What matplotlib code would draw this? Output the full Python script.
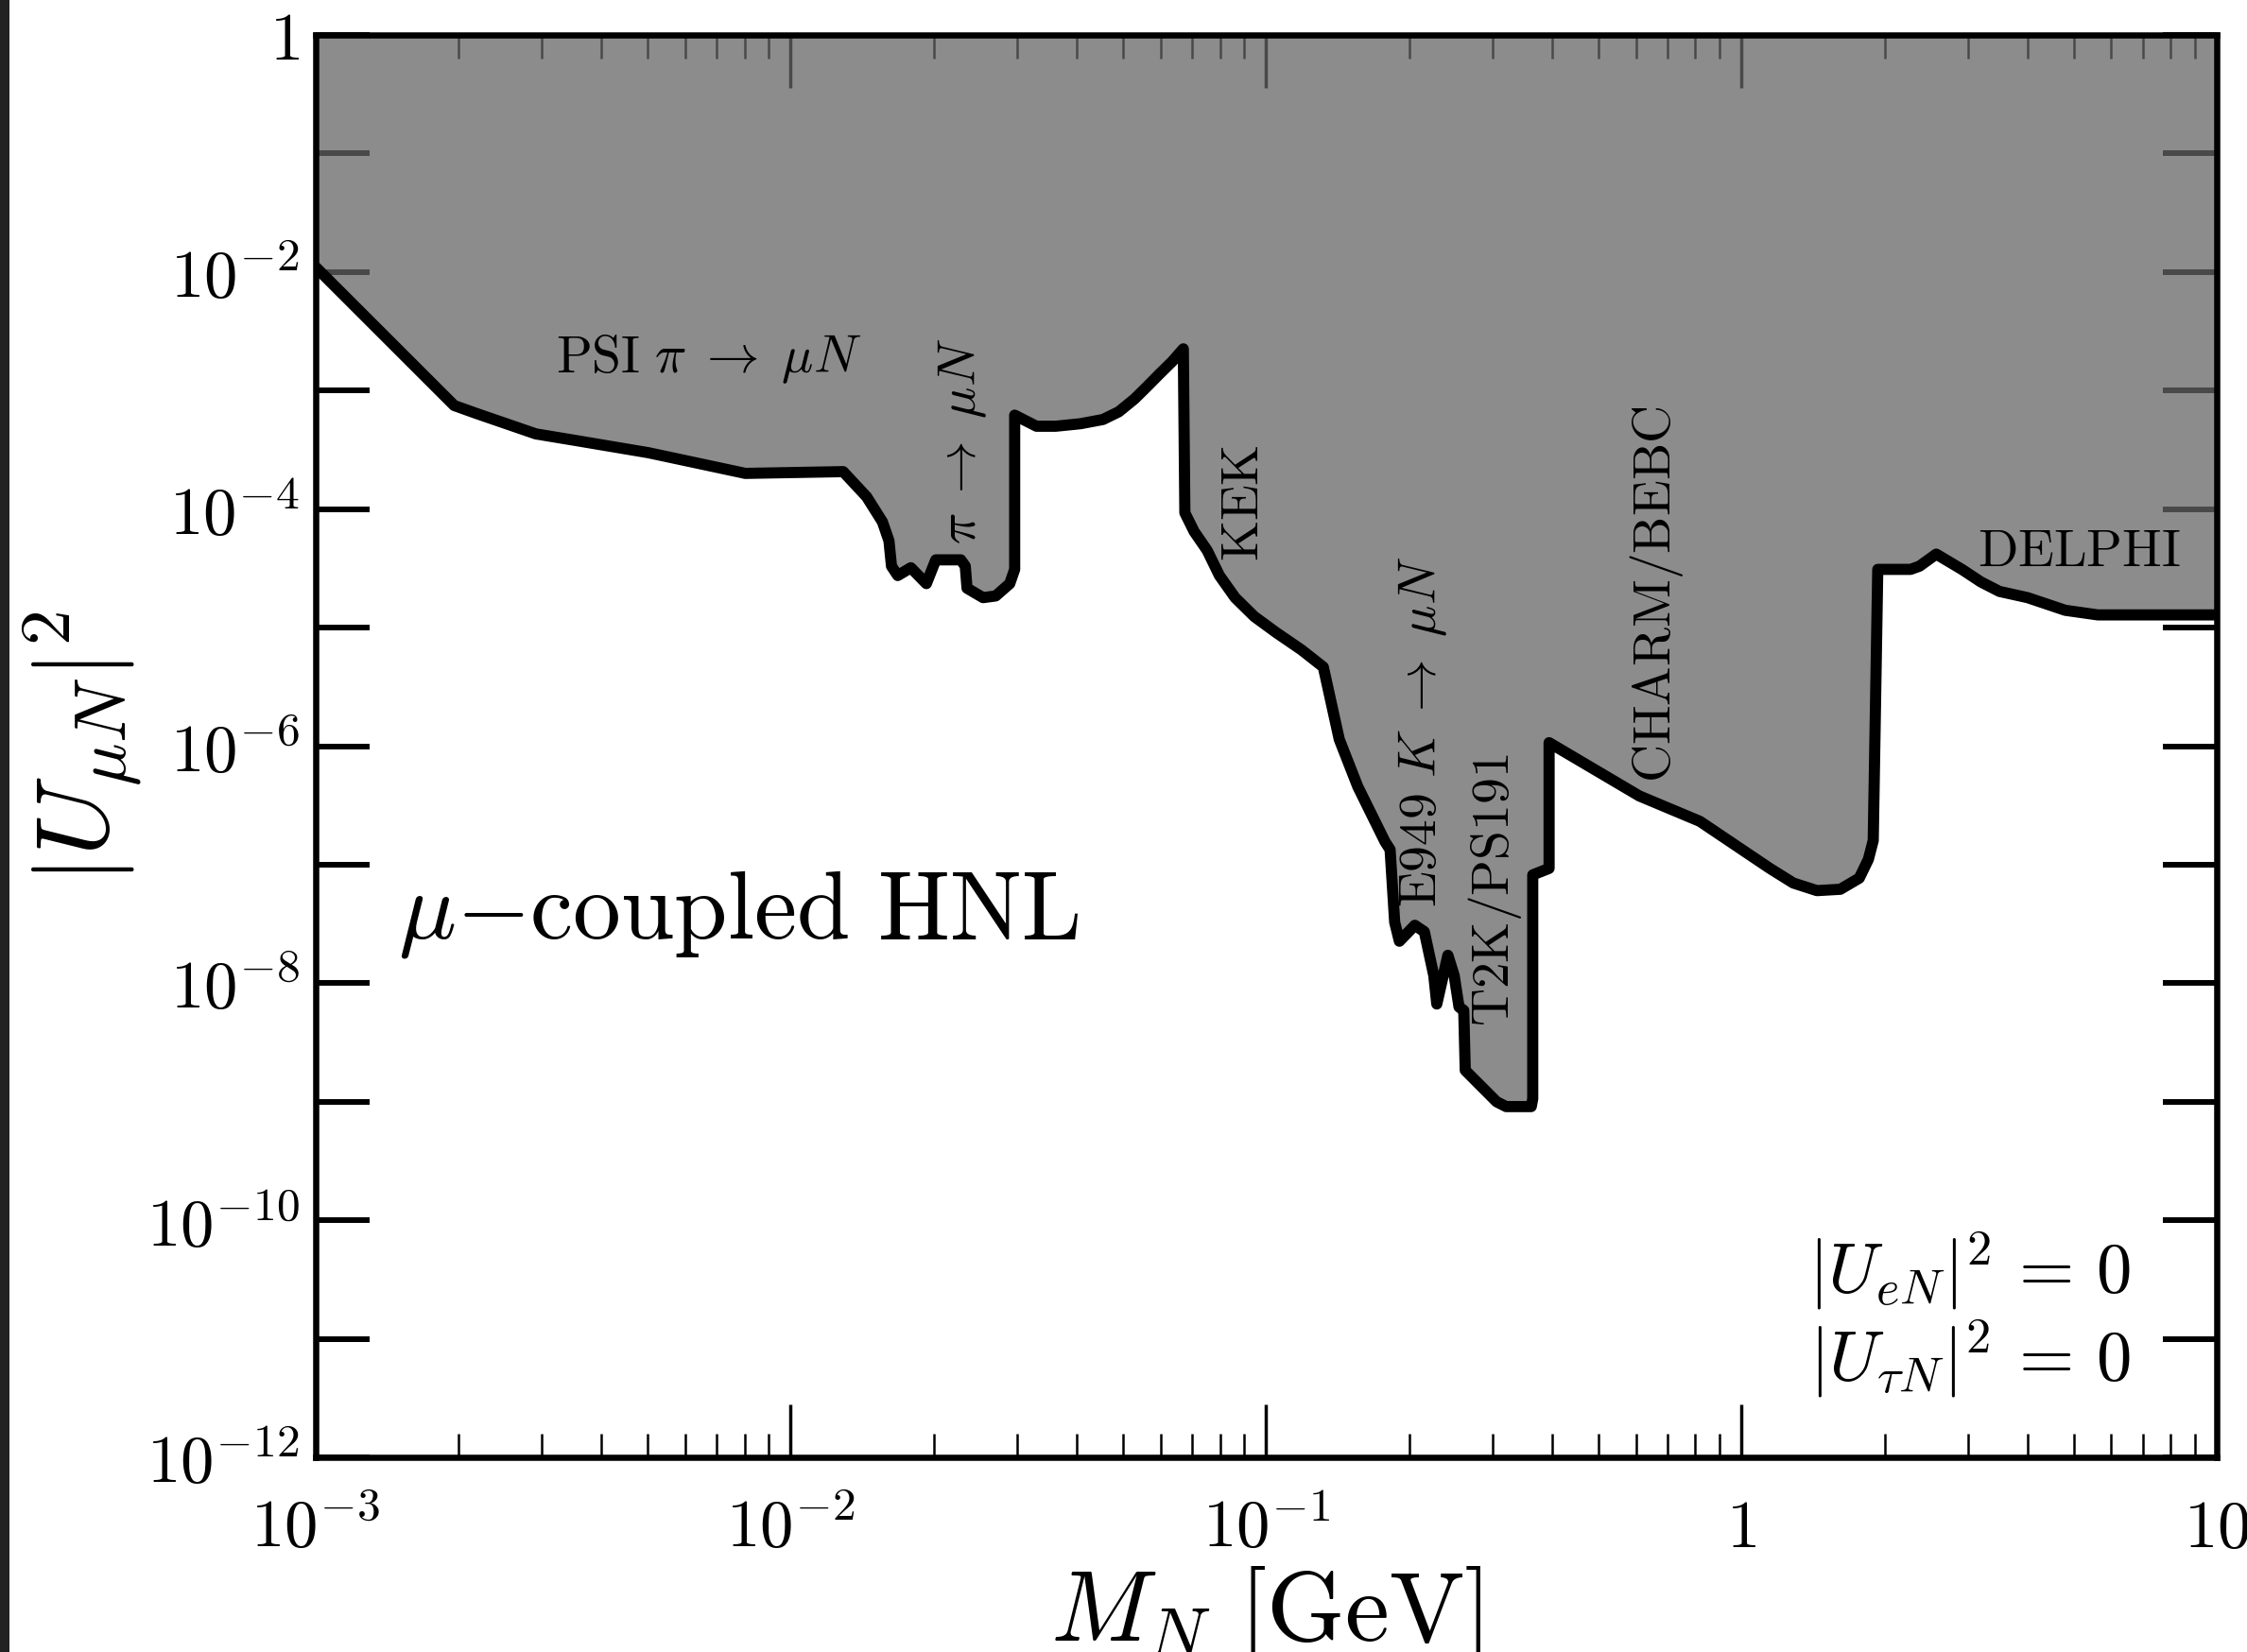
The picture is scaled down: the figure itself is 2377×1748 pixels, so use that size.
import matplotlib
matplotlib.use("Agg")
import matplotlib.pyplot as plt
from matplotlib.patches import Rectangle
from matplotlib.ticker import FixedLocator, FixedFormatter, NullLocator

plt.rcParams["mathtext.fontset"] = "cm"
plt.rcParams["font.family"] = "serif"
plt.rcParams["font.serif"] = ["cmr10", "DejaVu Serif"]
plt.rcParams["axes.unicode_minus"] = False
plt.rcParams["axes.formatter.use_mathtext"] = True

# Excluded-region boundary for a muon-coupled heavy neutral lepton
mass_gev = [
    1.0e-3, 1.96e-3, 2.18e-3, 2.91e-3, 3.49e-3, 5.02e-3, 6.02e-3, 8.03e-3,
    1.29e-2, 1.445e-2, 1.56e-2, 1.61e-2, 1.63e-2, 1.68e-2, 1.79e-2, 1.93e-2,
    2.02e-2, 2.28e-2, 2.33e-2, 2.35e-2, 2.54e-2, 2.70e-2, 2.89e-2, 2.96e-2,
    2.96e-2, 3.29e-2, 3.61e-2, 4.07e-2, 4.54e-2, 4.90e-2, 5.29e-2, 5.62e-2,
    5.97e-2, 6.35e-2, 6.70e-2,
    6.75e-2, 7.06e-2, 7.52e-2, 7.98e-2, 8.61e-2, 9.45e-2, 0.105, 0.1187, 0.132,
    0.1426, 0.156, 0.178, 0.1824, 0.1865, 0.1908, 0.2056, 0.2153, 0.2254,
    0.2287, 0.2413, 0.2488, 0.2547, 0.2606, 0.2625, 0.3055, 0.32, 0.3614,
    0.364, 0.364, 0.394, 0.394,
    0.61, 0.818, 1.148, 1.286, 1.442, 1.615, 1.77, 1.85, 1.894,
    1.936, 2.27, 2.37, 2.57, 2.91, 3.19, 3.49, 4.0, 4.80, 5.62, 10.0,
]
u_mu_sq = [
    1.11e-2, 7.48e-4, 6.42e-4, 4.31e-4, 3.82e-4, 2.99e-4, 2.56e-4, 2.0e-4,
    2.07e-4, 1.27e-4, 7.8e-5, 5.4e-5, 3.3e-5, 2.75e-5, 3.2e-5, 2.35e-5,
    3.73e-5, 3.73e-5, 3.3e-5, 2.15e-5, 1.79e-5, 1.85e-5, 2.35e-5, 3.1e-5,
    6.2e-4, 5.0e-4, 5.0e-4, 5.25e-4, 5.7e-4, 6.62e-4, 8.5e-4, 1.08e-3,
    1.38e-3, 1.76e-3, 2.25e-3,
    9.3e-5, 6.47e-5, 4.48e-5, 2.75e-5, 1.79e-5, 1.24e-5, 9.1e-6, 6.5e-6, 4.65e-6,
    1.14e-6, 4.55e-7, 1.56e-7, 1.34e-7, 3.27e-8, 2.26e-8, 3.08e-8, 2.72e-8, 1.16e-8,
    6.67e-9, 1.72e-8, 1.16e-8, 6.3e-9, 5.9e-9, 1.84e-9, 1.0e-9, 9.1e-10, 9.1e-10,
    1.06e-9, 8.2e-8, 9.3e-8, 1.07e-6,
    3.8e-7, 2.32e-7, 9.3e-8, 7.0e-8, 6.04e-8, 6.2e-8, 7.7e-8, 1.11e-7, 1.6e-7,
    3.1e-5, 3.1e-5, 3.3e-5, 4.17e-5, 3.1e-5, 2.43e-5, 2.02e-5, 1.79e-5, 1.4e-5,
    1.28e-5, 1.28e-5,
]

x_ticks = [1e-3, 1e-2, 1e-1, 1.0, 10.0]
x_tick_labels = [r"$10^{-3}$", r"$10^{-2}$", r"$10^{-1}$", r"$1$", r"$10$"]
y_ticks = [10.0 ** (-k) for k in range(0, 13)]
y_tick_labels = [r"$1$" if k == 0 else (r"$10^{-%d}$" % k if k % 2 == 0 else "")
                 for k in range(0, 13)]

# experiment labels: (text, x, y, rotation, horizontal alignment, vertical alignment)
experiment_labels = [
    (r"$\mathrm{PSI}\ \pi\;\to\;\mu N$", 3.2e-3, 1.45e-3, 0, "left", "baseline"),
    (r"$\pi\;\to\;\mu N$", 2.30e-2, 3.83e-4, 90, "center", "center"),
    (r"$\mathrm{KEK}$", 9.02e-2, 1.156e-4, 90, "center", "center"),
    (r"$\mathrm{E949}\ K\;\to\;\mu N$", 0.2135, 1.34e-6, 90, "center", "center"),
    (r"$\mathrm{T2K/PS191}$", 0.303, 6.24e-8, 90, "center", "center"),
    (r"$\mathrm{CHARM/BEBC}$", 0.663, 1.94e-5, 90, "center", "center"),
    (r"$\mathrm{DELPHI}$", 5.135, 4.3e-5, 0, "center", "center"),
]

W, H, DPI = 2377, 1749, 100
fig = plt.figure(figsize=(W / DPI, H / DPI), dpi=DPI)
fig.patch.set_facecolor("white")
ax = fig.add_axes([333.5 / W, 1 - 1543 / H, (2345 - 333.5) / W, (1543 - 38) / H])

ax.set_xscale("log")
ax.set_yscale("log")
ax.set_xlim(1e-3, 10)
ax.set_ylim(1e-12, 1)

ax.fill_between(mass_gev, u_mu_sq, 1.0, color="#646464", alpha=0.74,
                linewidth=0, zorder=2)
ax.plot(mass_gev, u_mu_sq, color="black", linewidth=8.5, zorder=3,
        solid_joinstyle="round", solid_capstyle="butt")

for s in ax.spines.values():
    s.set_linewidth(4.7)
    s.set_zorder(4)

ax.xaxis.set_major_locator(FixedLocator(x_ticks))
ax.xaxis.set_major_formatter(FixedFormatter(x_tick_labels))
minor = [m * 10.0 ** e for e in range(-3, 1) for m in range(2, 10)]
ax.xaxis.set_minor_locator(FixedLocator(minor))
ax.yaxis.set_major_locator(FixedLocator(y_ticks))
ax.yaxis.set_major_formatter(FixedFormatter(y_tick_labels))
ax.yaxis.set_minor_locator(NullLocator())

ax.tick_params(axis="y", which="major", direction="in", length=41, width=4.3,
               left=True, right=True, labelsize=51, pad=12)
ax.tick_params(axis="x", which="major", direction="in", length=40, width=2.5,
               top=True, bottom=True, labelsize=51, pad=68)
ax.tick_params(axis="x", which="minor", direction="in", length=18, width=1.8,
               top=True, bottom=True)

for txt, x, y, rot, ha, va in experiment_labels:
    ax.text(x, y, txt, rotation=rot, ha=ha, va=va, fontsize=40, zorder=5)

ax.text(1.49e-3, 2.47e-8, r"$\mu{-}\mathrm{coupled\ HNL}$", fontsize=73,
        ha="left", va="baseline", zorder=5)
ax.text(0.9548, 0.1163, r"$|U_{eN}|^2\,=\,0$", transform=ax.transAxes,
        fontsize=54, ha="right", va="baseline", zorder=5)
ax.text(0.9548, 0.0551, r"$|U_{\tau N}|^2\,=\,0$", transform=ax.transAxes,
        fontsize=54, ha="right", va="baseline", zorder=5)

ax.set_xlabel(r"$M_N\ [\mathrm{GeV}]$", fontsize=76)
ax.set_ylabel(r"$|U_{\mu N}|^2$", fontsize=78)
ax.xaxis.set_label_coords(0.5, -0.0744)
ax.yaxis.set_label_coords(-0.0897, 0.5)

fig.add_artist(Rectangle((0, 0), 10 / W, 1, transform=fig.transFigure,
                         facecolor="#222222", edgecolor="none", zorder=10))

fig.canvas.draw()
for t in ax.xaxis.get_major_ticks():
    t.label1.set_verticalalignment("baseline")

fig.savefig("out.png", dpi=DPI)
